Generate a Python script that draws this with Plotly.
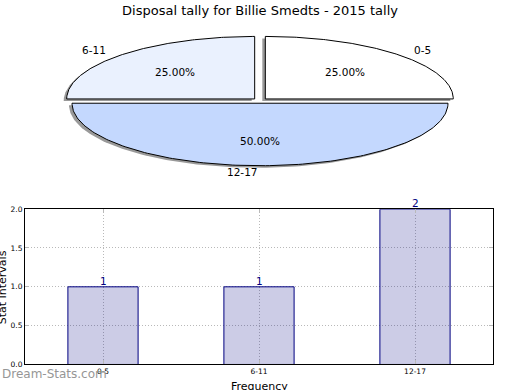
import numpy as np
import plotly.graph_objects as go

# ---- data ----
categories = ["0-5", "6-11", "12-17"]
counts = [1, 1, 2]
pie_colors = ["#ffffff", "#eaf1fe", "#c4d8fe"]
y_ticks = [0.0, 0.5, 1.0, 1.5, 2.0]
title_text = "Disposal tally for Billie Smedts - 2015 tally"
y_title = "Stat Intervals"
x_title = "Frequency"
watermark = "Dream-Stats.com"

FONT = "DejaVu Sans"
W, H = 520, 390

# pie geometry (unit circle in data coords; axis scaling squashes it into an ellipse)
explode = 0.04
label_dist = 1.1
pct_dist = 0.6
shadow_dx, shadow_dy = -0.016, -0.032

fig = go.Figure()

total = float(sum(counts))
start = 0.0
wedge_polys = []
annots = []
for lab, v, col in zip(categories, counts, pie_colors):
    span = 360.0 * v / total
    t1, t2 = start, start + span
    mid = np.deg2rad((t1 + t2) / 2.0)
    cx, cy = explode * np.cos(mid), explode * np.sin(mid)
    th = np.deg2rad(np.linspace(t1, t2, 160))
    xs = np.concatenate([[cx], cx + np.cos(th), [cx]])
    ys = np.concatenate([[cy], cy + np.sin(th), [cy]])
    wedge_polys.append((xs, ys, col))
    lx = cx + label_dist * np.cos(mid)
    ly = cy + label_dist * np.sin(mid)
    annots.append(dict(x=lx, y=ly, xref="x", yref="y", text=lab, showarrow=False,
                       xanchor="left" if lx > 1e-9 else "right", yanchor="middle",
                       font=dict(family=FONT, size=10.5, color="black")))
    px_ = cx + pct_dist * np.cos(mid)
    py_ = cy + pct_dist * np.sin(mid)
    annots.append(dict(x=px_, y=py_, xref="x", yref="y", text="%.2f%%" % (100.0 * v / total),
                       showarrow=False, xanchor="center", yanchor="middle",
                       font=dict(family=FONT, size=10.5, color="black")))
    start = t2

# shadows
for xs, ys, col in wedge_polys:
    fig.add_trace(go.Scatter(x=xs + shadow_dx, y=ys + shadow_dy, mode="lines", fill="toself",
                             fillcolor="rgba(0,0,0,0.4)", line=dict(width=0),
                             hoverinfo="skip", showlegend=False, xaxis="x", yaxis="y"))
# wedges
for (xs, ys, col), lab in zip(wedge_polys, categories):
    fig.add_trace(go.Scatter(x=xs, y=ys, mode="lines", fill="toself", fillcolor=col,
                             line=dict(color="black", width=1), name=lab,
                             showlegend=False, xaxis="x", yaxis="y"))

# bars
fig.add_trace(go.Bar(x=categories, y=counts, width=0.45,
                     marker=dict(color="rgba(0,0,128,0.2)", line=dict(color="#000080", width=1)),
                     showlegend=False, xaxis="x2", yaxis="y2"))

for c, v in zip(categories, counts):
    annots.append(dict(x=c, y=v, xref="x2", yref="y2", text=str(v), showarrow=False,
                       xanchor="center", yanchor="bottom", yshift=-2,
                       font=dict(family=FONT, size=10.5, color="#000080")))

# axis titles and watermark
annots.append(dict(x=2 / W, y=1 - 290 / H, xref="paper", yref="paper", text=y_title,
                   showarrow=False, textangle=-90, xanchor="center", yanchor="middle",
                   font=dict(family=FONT, size=11, color="black")))
annots.append(dict(x=259 / W, y=0, xref="paper", yref="paper", text=x_title,
                   showarrow=False, xanchor="center", yanchor="top", yshift=7,
                   font=dict(family=FONT, size=11, color="black")))
annots.append(dict(x=0, y=1 - 379 / H, xref="paper", yref="paper", text=watermark,
                   showarrow=False, xanchor="left", yanchor="middle",
                   font=dict(family=FONT, size=12, color="rgb(150,150,150)")))

pie_cy_px = 99.0
rx_px, ry_px = 188.0, 64.0
pie_top, pie_bot = 0.0, 190.0

grid = dict(showgrid=True, gridcolor="rgb(185,185,185)", griddash="1px,2px", gridwidth=1)

fig.update_layout(
    width=W, height=H,
    margin=dict(l=0, r=0, t=0, b=0),
    paper_bgcolor="white", plot_bgcolor="white",
    showlegend=False,
    title=dict(text=title_text, x=0.5, xanchor="center", y=1 - 10 / H, yanchor="middle",
               font=dict(family=FONT, size=13, color="black")),
    xaxis=dict(domain=[0, 1], range=[-(W / 2) / rx_px, (W / 2) / rx_px], visible=False,
               fixedrange=True),
    yaxis=dict(domain=[1 - pie_bot / H, 1 - pie_top / H],
               range=[(pie_cy_px - pie_bot) / ry_px, (pie_cy_px - pie_top) / ry_px],
               visible=False, fixedrange=True),
    xaxis2=dict(domain=[25 / W, 493 / W], anchor="y2", type="category", range=[-0.5, 2.5],
                showline=True, linecolor="black", linewidth=1, mirror="ticks",
                ticks="inside", ticklen=4, tickcolor="rgb(185,185,185)",
                tickfont=dict(family=FONT, size=7.5, color="black"), **grid),
    yaxis2=dict(domain=[1 - 369 / H, 1 - 210 / H], anchor="x2", range=[0, 2],
                tickvals=y_ticks, ticktext=["%.1f" % t for t in y_ticks],
                showline=True, linecolor="black", linewidth=1, mirror="ticks",
                ticks="inside", ticklen=4, tickcolor="rgb(185,185,185)", zeroline=False,
                tickfont=dict(family=FONT, size=7.5, color="black"), **grid),
    annotations=annots,
)

fig.write_html("out.html",
               config={"displayModeBar": False, "staticPlot": True},
               post_script="document.body.style.margin='0';document.body.style.overflow='hidden';")
